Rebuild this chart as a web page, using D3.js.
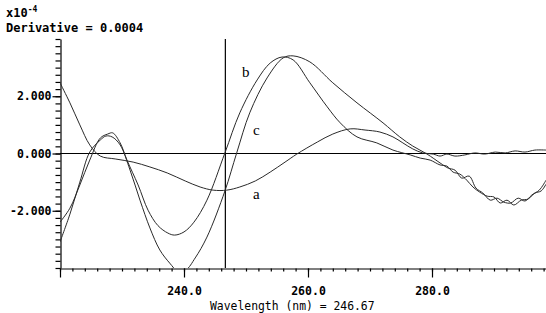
<!DOCTYPE html>
<html>
<head>
<meta charset="utf-8">
<script src="https://cdn.jsdelivr.net/npm/d3@7"></script>
<style>
  body { margin: 0; background: #fff; }
  svg { display: block; }
  .mono { font-family: "DejaVu Sans Mono", monospace; }
</style>
</head>
<body>
<div id="chart"></div>
<script>
// curve a (broad, low amplitude)
var waveA  = [220.0,221.6,223.2,224.8,226.5,228.9,231.8,234.5,237.3,240.2,242.6,244.7,246.9,249.0,251.5,253.9,256.3,258.2,261.5,264.0,266.8,269.2,271.6,273.7,275.3,276.9,278.5,280.2,281.3,282.4,283.7,285.3,286.9,288.5,290.2,291.8,293.4,295.0,296.6,298.4];
var derivA = [2.47,1.77,1.00,0.30,-0.09,-0.19,-0.30,-0.47,-0.68,-0.96,-1.17,-1.28,-1.28,-1.17,-0.96,-0.65,-0.30,-0.02,0.40,0.68,0.86,0.82,0.75,0.58,0.37,0.16,0.02,-0.02,-0.09,-0.02,-0.09,-0.05,0.02,-0.02,0.05,0.02,0.09,0.05,0.12,0.12];

// curve b (crosses zero at the cursor)
var waveB  = [220.0,221.6,223.2,224.8,226.5,227.7,228.5,229.7,230.8,232.6,234.2,235.8,237.4,238.5,240.0,241.6,243.7,246.6,249.0,251.8,253.9,255.8,257.6,260.3,263.1,265.2,267.9,271.1,273.7,276.5,278.1,279.7,281.3,282.4,283.4,284.5,285.6,286.6,287.7,288.9,290.0,291.0,292.1,293.2,294.4,295.5,296.6,297.6,298.4];
var derivB = [-2.40,-1.91,-1.10,-0.23,0.54,0.68,0.72,0.37,-0.23,-1.10,-1.98,-2.52,-2.78,-2.85,-2.74,-2.40,-1.63,0.02,1.42,2.57,3.16,3.37,3.27,2.47,1.63,1.07,0.58,0.37,0.12,-0.05,-0.16,-0.23,-0.40,-0.44,-0.65,-0.72,-0.93,-1.17,-1.35,-1.49,-1.52,-1.73,-1.63,-1.80,-1.63,-1.59,-1.38,-1.31,-1.07];

// curve c (deep minimum, runs off the bottom)
var waveC  = [220.0,221.6,223.2,224.8,226.5,227.4,228.4,229.7,231.3,232.9,234.5,236.1,237.7,239.0,240.3,241.8,243.7,246.6,248.5,250.6,253.4,256.0,257.6,260.3,264.0,267.9,272.1,274.8,276.9,279.2,281.3,282.6,283.7,284.8,286.0,287.1,288.2,289.4,290.5,291.6,292.7,293.9,295.0,296.1,297.3,298.4];
var derivC = [-3.09,-2.12,-1.00,0.05,0.47,0.61,0.58,0.30,-0.58,-1.63,-2.60,-3.37,-3.83,-4.11,-4.07,-3.65,-2.92,-1.31,0.02,1.42,2.64,3.34,3.41,3.20,2.47,1.77,1.07,0.58,0.26,-0.02,-0.33,-0.51,-0.58,-0.86,-0.79,-1.21,-1.38,-1.63,-1.56,-1.70,-1.73,-1.56,-1.66,-1.45,-1.28,-0.93];

var curveNames = ["a", "b", "c"];
var labelPos = [[253, 199, "a"], [242, 77, "b"], [253, 135, "c"]];
var cursorWave = 246.67;
var majorX = [220, 240, 260, 280];
var majorY = [-2, 0, 2];

var W = 546, H = 313;
var x = d3.scaleLinear().domain([220, 298.387]).range([60, 546]);
var y = d3.scaleLinear().domain([-4, 4]).range([268, 39]);

var svg = d3.select("#chart").append("svg")
    .attr("width", W).attr("height", H);

svg.append("defs").append("clipPath").attr("id", "plot")
  .append("rect").attr("x", 60).attr("y", 39).attr("width", 486).attr("height", 229);

// header
var hdr = svg.append("text").attr("class", "mono")
    .attr("x", 6).attr("y", 17)
    .style("font-size", "12px").style("font-weight", "bold");
hdr.append("tspan").text("x10");
hdr.append("tspan").attr("dy", -5).style("font-size", "8px").text("-4");

svg.append("text").attr("class", "mono")
    .attr("x", 6).attr("y", 32)
    .style("font-size", "12px").style("font-weight", "bold")
    .text("Derivative = 0.0004");

// y axis: minor then major
var yMinor = svg.append("g").attr("transform", "translate(60.5,0)")
    .call(d3.axisLeft(y).tickValues(d3.range(-4, 4.001, 0.25)).tickSize(5).tickSizeOuter(0).tickFormat(""));
var yMajor = svg.append("g").attr("transform", "translate(60.5,0)")
    .call(d3.axisLeft(y).tickValues(majorY).tickSize(8).tickPadding(1)
      .tickFormat(function(d){ return d.toFixed(3); }));
yMajor.select(".domain").remove();

// x axis
var xMinor = svg.append("g").attr("transform", "translate(0,268.5)")
    .call(d3.axisBottom(x).tickValues(d3.range(220, 299, 2)).tickSize(3).tickSizeOuter(0).tickFormat(""));
var xMajor = svg.append("g").attr("transform", "translate(0,268.5)")
    .call(d3.axisBottom(x).tickValues(majorX).tickSize(9).tickPadding(9)
      .tickFormat(function(d){ return d === 220 ? "" : d.toFixed(1); }));
xMajor.select(".domain").remove();

svg.selectAll(".tick text")
    .attr("class", "mono")
    .style("font-size", "11.5px").style("font-weight", "bold").attr("fill", "#000");
svg.selectAll(".domain, .tick line").attr("stroke", "#000").attr("stroke-width", 1.2);

svg.append("text").attr("class", "mono")
    .attr("x", 210).attr("y", 310)
    .style("font-size", "11.4px")
    .text("Wavelength (nm) = " + cursorWave.toFixed(2));

// zero line and cursor
svg.append("line")
    .attr("x1", 60).attr("x2", 546).attr("y1", y(0)).attr("y2", y(0))
    .attr("stroke", "#000").attr("stroke-width", 1.2);
svg.append("line")
    .attr("x1", x(cursorWave)).attr("x2", x(cursorWave)).attr("y1", 39).attr("y2", 268)
    .attr("stroke", "#000").attr("stroke-width", 1.2);

// curves
var series = [[waveA, derivA], [waveB, derivB], [waveC, derivC]];
var line = d3.line()
    .x(function(d){ return x(d[0]); })
    .y(function(d){ return y(d[1]); })
    .curve(d3.curveCatmullRom);

var g = svg.append("g").attr("clip-path", "url(#plot)");
series.forEach(function(s, i){
    g.append("path")
      .datum(d3.zip(s[0], s[1]))
      .attr("class", "curve-" + curveNames[i])
      .attr("d", line)
      .attr("fill", "none")
      .attr("stroke", "#2a2a2a")
      .attr("stroke-width", 1);
});

svg.selectAll(".lbl").data(labelPos).enter().append("text")
    .attr("class", "lbl")
    .attr("x", function(d){ return d[0]; })
    .attr("y", function(d){ return d[1]; })
    .style("font-family", "'Liberation Serif', serif")
    .style("font-size", "15px")
    .text(function(d){ return d[2]; });
</script>
</body>
</html>
